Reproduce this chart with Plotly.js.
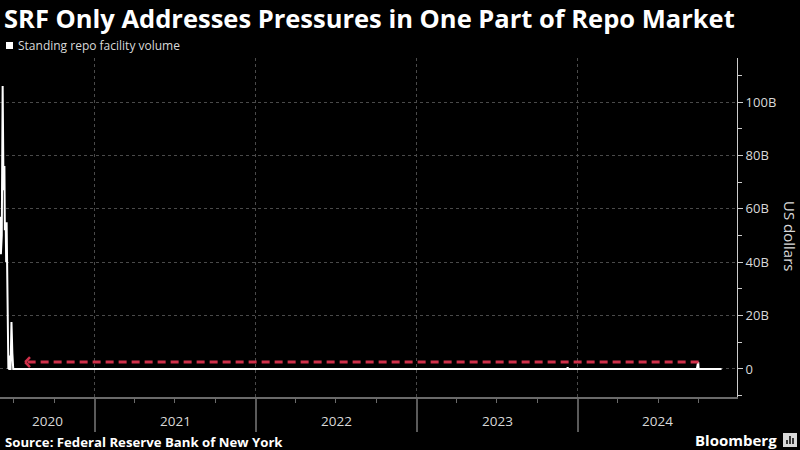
<!DOCTYPE html>
<html>
<head>
<meta charset="utf-8">
<script src="https://cdn.plot.ly/plotly-3.0.1.min.js"></script>
<style>
  html, body { margin: 0; padding: 0; background: #000; }
  #chart { width: 800px; height: 450px; }
</style>
</head>
<body>
<div id="chart"></div>
<script>
// ---- Data (US$ billions) ----
const dates = [
  '2020-05-31','2020-06-02','2020-06-04','2020-06-06','2020-06-08','2020-06-10',
  '2020-06-11','2020-06-13','2020-06-14','2020-06-15','2020-06-19','2020-06-20',
  '2020-06-21','2020-06-24','2020-06-26','2020-06-27','2020-06-28','2020-06-30',
  '2023-12-08','2023-12-09','2023-12-10',
  '2024-09-27','2024-09-30','2024-10-01','2024-11-22'
];
const volumes = [
  57, 43, 50, 106, 67, 76,
  52, 54, 40, 55, 0, 5,
  0, 0, 17.6, 9, 6, 0,
  0, 0.6, 0,
  0, 2.6, 0, 0
];
const seriesName = 'Standing repo facility volume';
const yTickVals = [0, 20, 40, 60, 80, 100];
const yTickText = ['0', '20B', '40B', '60B', '80B', '100B'];
const yearLabels = ['2020', '2021', '2022', '2023', '2024'];
const xRange = ['2020-05-31', '2024-12-27'];
const yRange = [-10.5, 116.5];
const markerLevel = 2.6;                 // Sept 30, 2024 usage
const arrowFrom = '2024-10-01';
const arrowTo = '2020-07-27';

// ---- Geometry helpers (plot area: x 0..737, y 58..397) ----
const W = 800, H = 450;
const M = { l: 0, r: 63, t: 58, b: 53 };
const PW = W - M.l - M.r, PH = H - M.t - M.b;
const px = x => (x - M.l) / PW;
const py = y => (H - M.b - y) / PH;

const FONT = 'Open Sans, Noto Sans, sans-serif';
const TXT = '#d9d9d9';

const trace = {
  x: dates, y: volumes, type: 'scatter', mode: 'lines',
  name: seriesName,
  line: { color: '#ffffff', width: 2 },
  hoverinfo: 'skip', showlegend: false
};

// year label annotations centred on the visible part of each year
const t0 = new Date(xRange[0]).getTime(), t1 = new Date(xRange[1]).getTime();
const yearAnn = yearLabels.map(y => {
  const a = Math.max(new Date(y + '-01-01').getTime(), t0);
  const b = Math.min(new Date((+y + 1) + '-01-01').getTime(), t1);
  const mid = new Date((a + b) / 2).toISOString().slice(0, 10);
  return {
    x: mid, xref: 'x', y: py(421), yref: 'paper', text: y, showarrow: false,
    font: { family: FONT, size: 13.5, color: TXT }, xanchor: 'center', yanchor: 'middle'
  };
});

// arrow chevron size in data units
const msPerPx = (t1 - t0) / PW;
const bPerPx = (yRange[1] - yRange[0]) / PH;
const tipT = new Date(arrowTo).getTime();
const armX = new Date(tipT + 5 * msPerPx).toISOString().slice(0, 10);
const armY = 5 * bPerPx;

const RED = '#d0304a';

const layout = {
  width: W, height: H,
  paper_bgcolor: '#000', plot_bgcolor: '#000',
  margin: M,
  showlegend: false,
  font: { family: FONT, color: TXT },
  xaxis: {
    type: 'date', range: xRange, fixedrange: true,
    tick0: '2020-01-01', dtick: 'M12',
    showticklabels: false,
    ticks: 'outside', ticklen: 33, tickcolor: '#5a5a5a', tickwidth: 2,
    showgrid: true, gridcolor: '#4a4a4a', griddash: 'dot', gridwidth: 1,
    showline: true, linecolor: '#6a6a6a', linewidth: 2,
    zeroline: false,
    minor: { dtick: 'M3', tick0: '2020-01-01', ticks: 'outside', ticklen: 4, tickcolor: '#6a6a6a', tickwidth: 1, showgrid: false }
  },
  yaxis: {
    side: 'right', range: yRange, fixedrange: true,
    tickmode: 'array', tickvals: yTickVals, ticktext: yTickText,
    ticks: 'outside', ticklen: 5, tickcolor: '#cccccc', tickwidth: 1,
    tickfont: { family: FONT, size: 13, color: TXT },
    showgrid: true, gridcolor: '#4a4a4a', griddash: 'dot', gridwidth: 1,
    showline: true, linecolor: '#cccccc', linewidth: 1,
    zeroline: false,
    minor: { tickmode: 'linear', tick0: 0, dtick: 10, ticks: 'outside', ticklen: 4, tickcolor: '#cccccc', tickwidth: 1, showgrid: false }
  },
  shapes: [
    // dashed reference line
    { type: 'line', xref: 'x', yref: 'y', x0: arrowFrom, x1: arrowTo, y0: markerLevel, y1: markerLevel,
      line: { color: RED, width: 3, dash: '8px,5px' } },
    // chevron
    { type: 'line', xref: 'x', yref: 'y', x0: arrowTo, y0: markerLevel, x1: armX, y1: markerLevel + armY,
      line: { color: RED, width: 2.5 } },
    { type: 'line', xref: 'x', yref: 'y', x0: arrowTo, y0: markerLevel, x1: armX, y1: markerLevel - armY,
      line: { color: RED, width: 2.5 } },
    // legend swatch
    { type: 'rect', xref: 'paper', yref: 'paper', x0: px(6), x1: px(13), y0: py(49), y1: py(42),
      fillcolor: '#ffffff', line: { width: 0 } },
    // Bloomberg logo box
    { type: 'rect', xref: 'paper', yref: 'paper', x0: px(783), x1: px(797), y0: py(447), y1: py(433),
      fillcolor: '#d9d9d9', line: { width: 0 } },
    { type: 'line', xref: 'paper', yref: 'paper', x0: px(787), x1: px(787), y0: py(444), y1: py(440),
      line: { color: '#000', width: 1.5 } },
    { type: 'line', xref: 'paper', yref: 'paper', x0: px(790), x1: px(790), y0: py(444), y1: py(436),
      line: { color: '#000', width: 1.5 } },
    { type: 'line', xref: 'paper', yref: 'paper', x0: px(793), x1: px(793), y0: py(444), y1: py(438),
      line: { color: '#000', width: 1.5 } }
  ],
  annotations: [
    { text: '<b>SRF Only Addresses Pressures in One Part of Repo Market</b>', xref: 'paper', yref: 'paper',
      x: px(2), y: py(18), xanchor: 'left', yanchor: 'middle', showarrow: false,
      font: { family: FONT, size: 25.5, color: '#ffffff' } },
    { text: seriesName, xref: 'paper', yref: 'paper', x: px(16), y: py(46), xanchor: 'left', yanchor: 'middle',
      showarrow: false, font: { family: FONT, size: 12, color: TXT } },
    { text: 'US dollars', xref: 'paper', yref: 'paper', x: px(790), y: py(236), xanchor: 'center', yanchor: 'middle',
      textangle: 90, showarrow: false, font: { family: FONT, size: 15, color: TXT } },
    { text: '<b>Source: Federal Reserve Bank of New York</b>', xref: 'paper', yref: 'paper',
      x: px(3), y: py(442), xanchor: 'left', yanchor: 'middle', showarrow: false,
      font: { family: FONT, size: 13.2, color: '#ffffff' } },
    { text: '<b>Bloomberg</b>', xref: 'paper', yref: 'paper', x: px(779), y: py(440), xanchor: 'right', yanchor: 'middle',
      showarrow: false, font: { family: FONT, size: 15, color: '#ffffff' } }
  ].concat(yearAnn)
};

Plotly.newPlot('chart', [trace], layout, { staticPlot: true, displayModeBar: false });
</script>
</body>
</html>
